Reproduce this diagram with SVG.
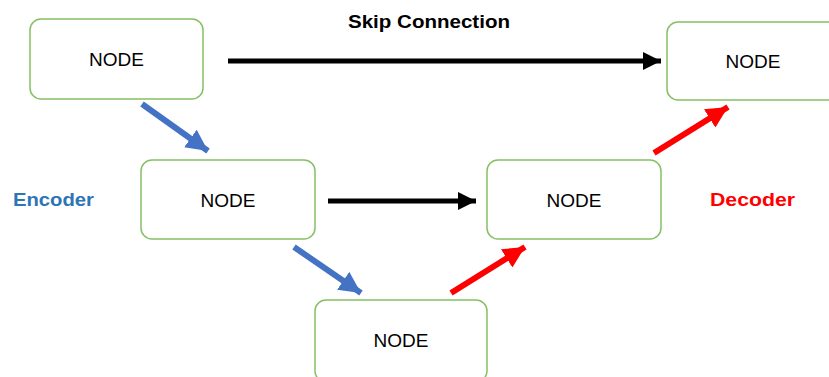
<svg xmlns="http://www.w3.org/2000/svg" width="829" height="377" viewBox="0 0 829 377">
<style>
.node rect{fill:#fff;stroke:#86c065;stroke-width:1.5}
.node text{font-family:"Liberation Sans",Arial,sans-serif;font-size:19px;fill:#000;text-anchor:middle}
.lbl{font-family:"Liberation Sans",Arial,sans-serif;font-weight:bold;font-size:19px}
.blk{stroke:#000;stroke-width:5;fill:none}
.blu{stroke:#4472c4;stroke-width:6;fill:none}
.red{stroke:#ff0000;stroke-width:6;fill:none}
</style>
<defs>
<marker id="hb" viewBox="0 0 10 10" refX="10" refY="5" markerWidth="3.6" markerHeight="3.6" markerUnits="strokeWidth" orient="auto"><path d="M0,0L10,5L0,10z" fill="#000"/></marker>
<marker id="hu" viewBox="0 0 10 10" refX="10" refY="5" markerWidth="3.6" markerHeight="3.6" markerUnits="strokeWidth" orient="auto"><path d="M0,0L10,5L0,10z" fill="#4472c4"/></marker>
<marker id="hr" viewBox="0 0 10 10" refX="10" refY="5" markerWidth="3.6" markerHeight="3.6" markerUnits="strokeWidth" orient="auto"><path d="M0,0L10,5L0,10z" fill="#ff0000"/></marker>
</defs>
<rect width="829" height="377" fill="#fff"/>
<g id="node1" class="node"><rect x="30" y="19" width="173" height="80" rx="11"/><text x="116.5" y="66">NODE</text></g>
<g id="node2" class="node"><rect x="141" y="160" width="174" height="79" rx="11"/><text x="228" y="207">NODE</text></g>
<g id="node3" class="node"><rect x="315" y="300" width="172" height="82" rx="11"/><text x="401" y="347">NODE</text></g>
<g id="node4" class="node"><rect x="487" y="160" width="174" height="79" rx="11"/><text x="574" y="207">NODE</text></g>
<g id="node5" class="node"><rect x="667" y="22" width="176" height="78" rx="11"/><text x="753" y="68">NODE</text></g>
<g id="labels">
<text class="lbl" x="429" y="28" text-anchor="middle" textLength="162" lengthAdjust="spacingAndGlyphs">Skip Connection</text>
<text class="lbl" x="13" y="206" fill="#2e75b6" textLength="81" lengthAdjust="spacingAndGlyphs">Encoder</text>
<text class="lbl" x="710" y="206" fill="#ff0000" textLength="85" lengthAdjust="spacingAndGlyphs">Decoder</text>
</g>
<g id="connectors">
<line class="blk" x1="228" y1="61" x2="661" y2="61" marker-end="url(#hb)"/>
<line class="blk" x1="328" y1="201" x2="476" y2="201" marker-end="url(#hb)"/>
<line class="blu" x1="142" y1="104" x2="208" y2="151" marker-end="url(#hu)"/>
<line class="blu" x1="294" y1="247" x2="361" y2="293" marker-end="url(#hu)"/>
<line class="red" x1="451" y1="293" x2="525" y2="247" marker-end="url(#hr)"/>
<line class="red" x1="654" y1="153" x2="728" y2="107" marker-end="url(#hr)"/>
</g>
</svg>
